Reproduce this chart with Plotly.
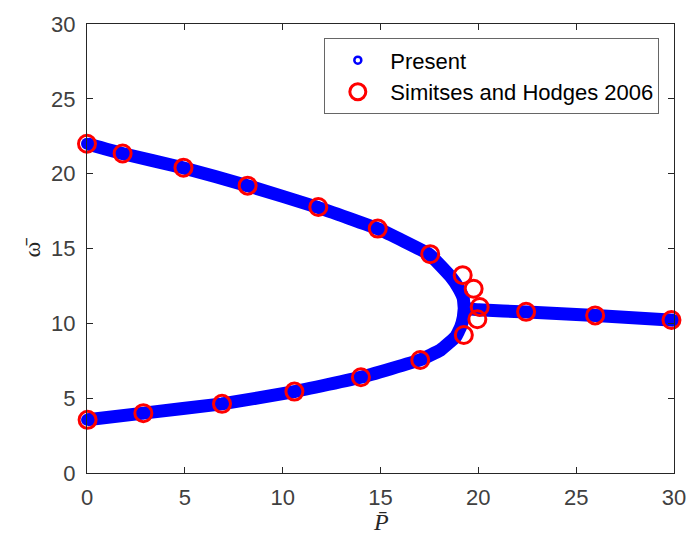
import plotly.graph_objects as go

# Present (blue band)
upper_P = [0, 1.8, 4.9, 8.2, 11.8, 14.9, 17.5, 18.6, 19.0, 19.23, 19.28]
upper_w = [22.0, 21.35, 20.4, 19.2, 17.75, 16.3, 14.6, 13.1, 12.33, 11.67, 11.0]
lower_P = [0, 2.9, 6.9, 10.6, 14.0, 17.0, 18.07, 18.84, 19.1, 19.23, 19.28]
lower_w = [3.55, 4.0, 4.62, 5.44, 6.4, 7.55, 8.22, 9.1, 9.77, 10.4, 11.0]
right_P = [19.28, 20.0, 22.5, 26.0, 30.0]
right_w = [11.0, 10.9, 10.75, 10.52, 10.2]

# Simitses and Hodges 2006
sh_P = [0.0, 1.82, 4.93, 8.21, 11.82, 14.86, 17.54, 19.2, 19.76, 20.07, 19.95, 19.26,
        17.03, 14.0, 10.6, 6.9, 2.88, 0.03, 22.44, 25.97, 29.87]
sh_w = [22.0, 21.35, 20.4, 19.2, 17.77, 16.33, 14.62, 13.22, 12.31, 11.09, 10.27, 9.22,
        7.55, 6.4, 5.44, 4.62, 4.0, 3.55, 10.77, 10.53, 10.22]

x_ticks = [0, 5, 10, 15, 20, 25, 30]
y_ticks = [0, 5, 10, 15, 20, 25, 30]

BLUE = "#0000FF"
RED = "#FF0000"

fig = go.Figure()

# legend-only entry for Present
fig.add_trace(go.Scatter(
    x=[None], y=[None], mode="markers", name="Present",
    marker=dict(symbol="circle-open", size=7, color=BLUE, line=dict(width=2.5, color=BLUE)),
))

curve_P = upper_P + lower_P[::-1] + [None] + right_P
curve_w = upper_w + lower_w[::-1] + [None] + right_w
fig.add_trace(go.Scatter(
    x=curve_P, y=curve_w, mode="lines+markers", showlegend=False,
    line=dict(color=BLUE, width=13, shape="spline", smoothing=0.3),
    marker=dict(symbol="circle", size=12, color=BLUE),
    cliponaxis=False, hoverinfo="skip",
))

fig.add_trace(go.Scatter(
    x=sh_P, y=sh_w, mode="markers", name="Simitses and Hodges 2006",
    marker=dict(symbol="circle-open", size=17, color=RED, line=dict(width=3, color=RED)),
    cliponaxis=False,
))

axis_common = dict(
    showgrid=False, zeroline=False, showline=True, linecolor="#262626", linewidth=1,
    mirror="ticks", ticks="inside", ticklen=6, tickwidth=1, tickcolor="#262626",
    tickfont=dict(family="Liberation Sans, Arial, sans-serif", size=22, color="#404040"),
    automargin=False,
)

fig.update_xaxes(range=[0, 30], tickvals=x_ticks, ticktext=[str(v) for v in x_ticks],
                 ticklabelstandoff=5, **axis_common)
fig.update_yaxes(range=[0, 30], tickvals=y_ticks, ticktext=[str(v) for v in y_ticks],
                 ticklabelstandoff=6, **axis_common)

fig.add_annotation(text="<i>P\u0304</i>", xref="paper", yref="paper", x=0.5, y=-0.11,
                   xanchor="center", yanchor="middle", showarrow=False,
                   font=dict(family="Liberation Serif, Times New Roman, serif", size=24, color="#262626"))
fig.add_annotation(text="\u03c9\u0304", xref="paper", yref="paper", x=-0.094, y=0.502,
                   xanchor="center", yanchor="middle", showarrow=False, textangle=-90,
                   font=dict(family="Liberation Serif, Times New Roman, serif", size=24, color="#262626"))

fig.update_layout(
    width=687, height=541,
    margin=dict(l=87, r=13, t=24, b=68, autoexpand=False),
    paper_bgcolor="white", plot_bgcolor="white",
    legend=dict(
        x=0.975, y=0.968, xanchor="right", yanchor="top",
        bgcolor="white", bordercolor="#666666", borderwidth=1,
        font=dict(family="Liberation Sans, Arial, sans-serif", size=22, color="#000000"),
        tracegroupgap=0, itemsizing="trace", itemwidth=55,
    ),
)

# remove the page's default body margin so the figure fills the 687x541 window
fig.write_html("out.html", config={"displayModeBar": False},
               post_script="document.body.style.margin='0';document.body.style.overflow='hidden';")
